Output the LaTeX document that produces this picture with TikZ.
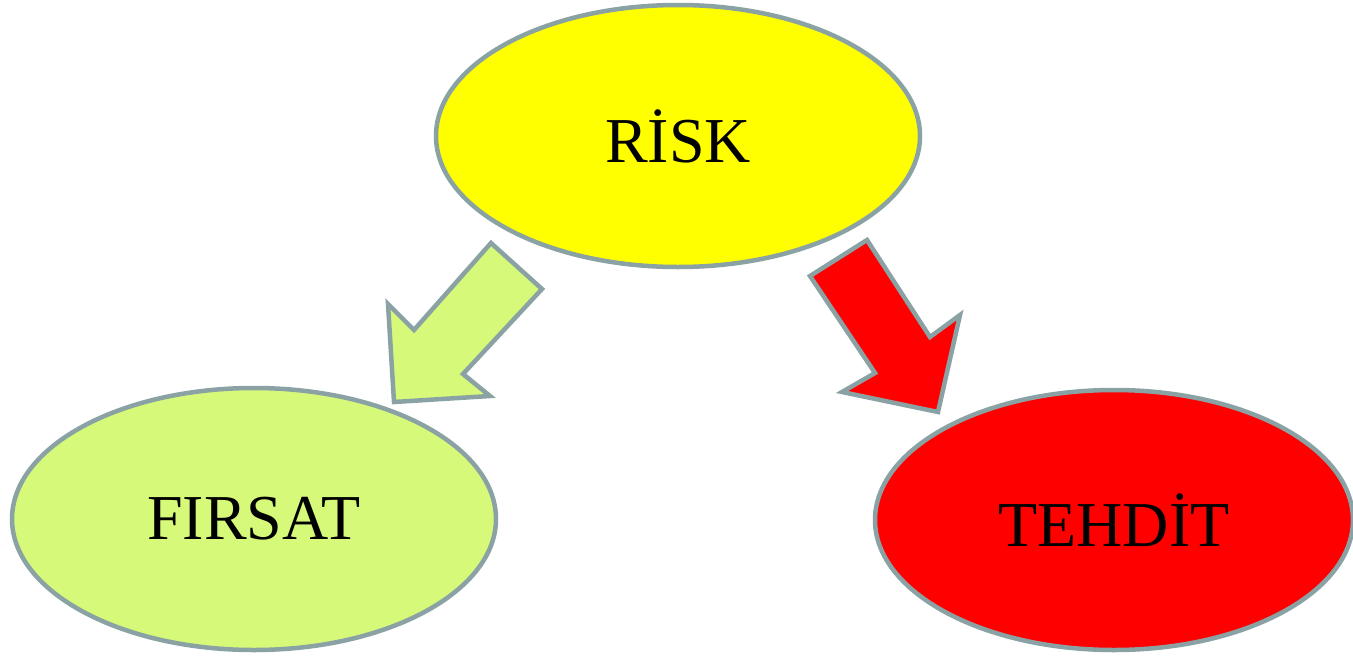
\documentclass[tikz,border=0pt]{standalone}
\usepackage{fontspec}
\setmainfont{Liberation Serif}
\usetikzlibrary{shapes.geometric}
\definecolor{rimgray}{RGB}{138,162,164}
\definecolor{riskyellow}{RGB}{255,255,0}
\definecolor{firsatgreen}{RGB}{215,249,122}
\definecolor{tehditred}{RGB}{255,0,0}
\begin{document}
\begin{tikzpicture}[x=1pt, y=-1pt,
    blob/.style={ellipse, draw=rimgray, line width=4.5pt, inner sep=0pt, minimum width=484pt, minimum height=262pt, font=\fontsize{64}{76}\selectfont},
    blockarrow/.style={draw=rimgray, line width=4.5pt, line join=miter}]
    \useasboundingbox (0,0) rectangle (1353,656);
    % the three ellipses
    \node[blob, fill=riskyellow] (risk) at (678,136) {RİSK};
    \node[blob, fill=firsatgreen] (firsat) at (254,519) {FIRSAT};
    \node[blob, fill=tehditred, minimum width=478pt, minimum height=260pt] (tehdit) at (1114,520) {TEHDİT};
    % block arrows
    \draw[blockarrow, fill=firsatgreen] (491,243) -- (542,289) -- (463,374) -- (490,396) -- (394,402) -- (388,304) -- (414,330) -- cycle;
    \draw[blockarrow, fill=tehditred] (810,276) -- (867,240) -- (930,337) -- (960,315) -- (938,412) -- (842,392) -- (875,373) -- cycle;
\end{tikzpicture}
\end{document}
